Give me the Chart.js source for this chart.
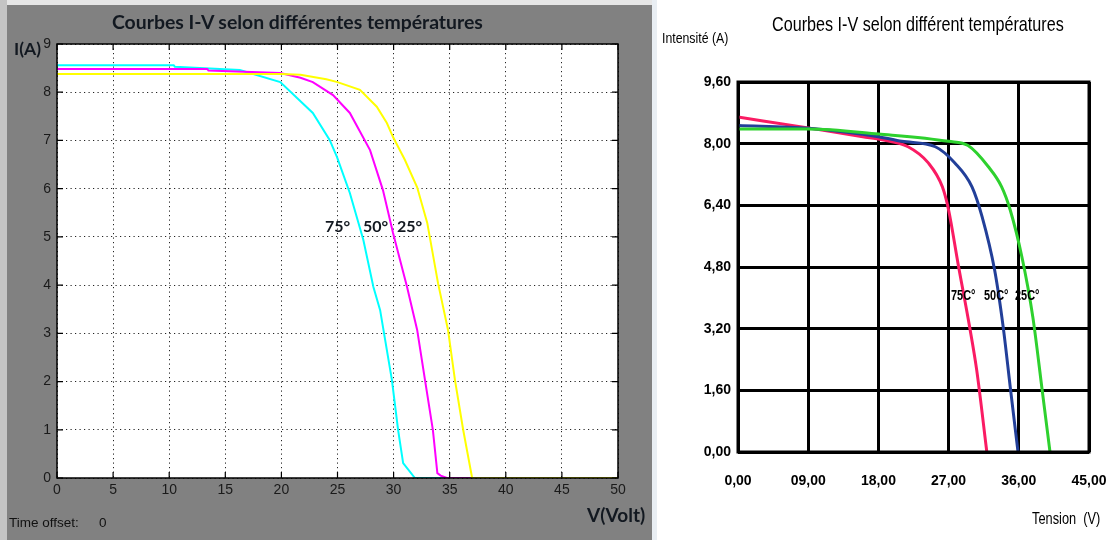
<!DOCTYPE html>
<html>
<head>
<meta charset="utf-8">
<script src="https://cdn.jsdelivr.net/npm/chart.js@4"></script>
<style>
  html, body { margin:0; padding:0; width:1106px; height:540px; background:#ffffff; overflow:hidden; }
  #stripL { position:absolute; left:0; top:0; width:7px; height:540px; background:#c4c4c4; }
  #stripT { position:absolute; left:7px; top:0; width:645px; height:5px; background:#e6e6e6; }
  #stripR { position:absolute; left:652px; top:0; width:5px; height:540px; background:#e9eef3; }
  #panel { position:absolute; left:7px; top:5px; width:645px; height:535px; background:#818181; }
  #cL { position:absolute; left:0; top:0; }
  #cR { position:absolute; left:655px; top:0; }
  .t { position:absolute; white-space:nowrap; line-height:1; }
  .lf { font-family: Lato, "Open Sans", sans-serif; font-weight:bold; color:#121820; }
  .nr { font-family: "Liberation Sans", Arial, sans-serif; color:#000; transform-origin: 0 0; }
</style>
</head>
<body>
<div id="stripL"></div><div id="stripT"></div><div id="stripR"></div>
<div id="panel"></div>
<canvas id="cL" width="652" height="540"></canvas>
<canvas id="cR" width="451" height="540"></canvas>

<div class="t lf" style="left:112px; top:12px; font-size:19.4px;">Courbes I-V selon différentes températures</div>
<div class="t lf" style="left:14px; top:40px; font-size:17.5px;">I(A)</div>
<div class="t lf" style="left:587px; top:505px; font-size:19px;">V(Volt)</div>
<div class="t" style="left:9px; top:516px; font-size:13.5px; font-family:'Liberation Sans',Arial,sans-serif; color:#111;">Time offset:</div>
<div class="t" style="left:99px; top:516px; font-size:13.5px; font-family:'Liberation Sans',Arial,sans-serif; color:#111;">0</div>
<div class="t lf" style="left:325px; top:218px; font-size:16px;">75°</div>
<div class="t lf" style="left:363px; top:218px; font-size:16px;">50°</div>
<div class="t lf" style="left:397px; top:218px; font-size:16px;">25°</div>

<div class="t nr" style="left:772px; top:13px; font-size:21px; transform:scaleX(0.77);">Courbes I-V selon différent températures</div>
<div class="t nr" style="left:662px; top:30px; font-size:15px; transform:scaleX(0.82);">Intensité (A)</div>
<div class="t nr" style="left:1032px; top:511px; font-size:16px; transform:scaleX(0.8);">Tension&nbsp; (V)</div>
<div class="t nr" style="left:951px; top:288px; font-size:14px; font-weight:bold; transform:scaleX(0.78);">75C°</div>
<div class="t nr" style="left:984px; top:288px; font-size:14px; font-weight:bold; transform:scaleX(0.78);">50C°</div>
<div class="t nr" style="left:1015px; top:288px; font-size:14px; font-weight:bold; transform:scaleX(0.78);">25C°</div>

<script>
// ---------- Left chart data (V, I) ----------
const leftV25 = [0, 20, 21.7, 24, 25, 27, 28.5, 29.4, 29.95, 31, 32.1, 33, 33.96, 34.85, 35.47, 36.2, 37, 50];
const leftI25 = [8.38, 8.38, 8.36, 8.27, 8.21, 8.05, 7.7, 7.36, 7.07, 6.6, 6.03, 5.29, 4.04, 3.07, 2.03, 1.0, 0, 0];
const leftV50 = [0, 13.4, 13.5, 19.9, 21.7, 22.8, 24.6, 26.1, 27.9, 29.05, 29.95, 31.2, 32.1, 32.8, 33.5, 33.9, 34.2, 34.75, 50];
const leftI50 = [8.48, 8.48, 8.45, 8.40, 8.3, 8.21, 7.94, 7.57, 6.8, 5.97, 5.08, 3.96, 3.07, 2.03, 1.0, 0.1, 0.05, 0, 0];
const leftV75 = [0, 10.4, 10.5, 16.3, 19.9, 22.8, 24.3, 24.95, 26.1, 27.3, 28.2, 28.8, 29.85, 30.4, 30.85, 31.9, 50];
const leftI75 = [8.56, 8.56, 8.53, 8.46, 8.21, 7.57, 7.01, 6.66, 5.91, 4.94, 3.96, 3.48, 2.03, 1.0, 0.31, 0, 0];
const leftXTicks = [0, 5, 10, 15, 20, 25, 30, 35, 40, 45, 50];
const leftYTicks = [0, 1, 2, 3, 4, 5, 6, 7, 8, 9];

// ---------- Right chart data (V, I) ----------
const rightV75 = [0, 9, 16, 18.5, 21.8, 24.4, 26.2, 27, 28.2, 29.7, 30.6, 31.9];
const rightI75 = [8.69, 8.41, 8.18, 8.1, 7.92, 7.5, 6.88, 6.28, 4.9, 3.24, 2.13, 0];
const rightV50 = [0, 9, 18, 21, 25.3, 27.8, 30, 31.3, 32.9, 34, 34.9, 35.9];
const rightI50 = [8.47, 8.40, 8.18, 8.06, 7.92, 7.5, 6.88, 6.1, 4.72, 3.24, 1.69, 0];
const rightV25 = [0, 9, 18, 27, 29.5, 32.1, 33.8, 34.9, 36.4, 37.8, 39, 40];
const rightI25 = [8.38, 8.38, 8.25, 8.06, 7.95, 7.4, 6.88, 6.28, 5.06, 3.5, 1.6, 0];
const rightXTicks = [0, 9, 18, 27, 36, 45];
const rightXLabels = ["0,00", "09,00", "18,00", "27,00", "36,00", "45,00"];
const rightYTicks = [0, 1.6, 3.2, 4.8, 6.4, 8.0, 9.6];
const rightYLabels = ["0,00", "1,60", "3,20", "4,80", "6,40", "8,00", "9,60"];

function pts(xs, ys) { return xs.map((x, i) => ({ x: x, y: ys[i] })); }

// ---------- Left chart ----------
const leftFrame = {
  id: 'leftFrame',
  beforeDraw(chart) {
    const a = chart.chartArea, c = chart.ctx;
    c.save(); c.fillStyle = '#ffffff';
    c.fillRect(a.left, a.top, a.right - a.left, a.bottom - a.top);
    c.restore();
  },
  afterDatasetsDraw(chart) {
    const a = chart.chartArea, c = chart.ctx;
    const xs = chart.scales.x, ys = chart.scales.y;
    c.save();
    c.strokeStyle = '#000'; c.lineWidth = 1.5;
    c.strokeRect(a.left, a.top, a.right - a.left, a.bottom - a.top);
    c.lineWidth = 1.2;
    c.beginPath();
    leftXTicks.forEach(v => {
      const px = xs.getPixelForValue(v);
      c.moveTo(px, a.bottom); c.lineTo(px, a.bottom - 6);
      c.moveTo(px, a.top); c.lineTo(px, a.top + 6);
    });
    leftYTicks.forEach(v => {
      const py = ys.getPixelForValue(v);
      c.moveTo(a.left, py); c.lineTo(a.left + 6, py);
      c.moveTo(a.right, py); c.lineTo(a.right - 6, py);
    });
    c.stroke();
    c.restore();
  }
};

new Chart(document.getElementById('cL'), {
  type: 'scatter',
  data: {
    datasets: [
      { label: '25°', data: pts(leftV25, leftI25), borderColor: '#ffff00', showLine: true, borderWidth: 2, pointRadius: 0, tension: 0 },
      { label: '50°', data: pts(leftV50, leftI50), borderColor: '#ff00ff', showLine: true, borderWidth: 2, pointRadius: 0, tension: 0 },
      { label: '75°', data: pts(leftV75, leftI75), borderColor: '#00ffff', showLine: true, borderWidth: 2, pointRadius: 0, tension: 0 }
    ]
  },
  options: {
    responsive: false, animation: false,
    layout: { padding: { left: 0, top: 44, right: 34, bottom: 0 } },
    plugins: { legend: { display: false }, tooltip: { enabled: false }, title: { display: false } },
    scales: {
      x: {
        type: 'linear', min: 0, max: 50,
        afterBuildTicks: s => { s.ticks = leftXTicks.map(v => ({ value: v })); },
        afterFit: s => { s.height = 62; s.paddingLeft = 0; s.paddingRight = 0; },
        ticks: { color: '#1a1a1a', padding: 4, font: { family: "'Liberation Sans', Arial, sans-serif", size: 14 }, maxRotation: 0 },
        grid: { color: '#222', lineWidth: 1, drawTicks: false },
        border: { display: false, dash: [1.2, 3.3] }
      },
      y: {
        type: 'linear', min: 0, max: 9,
        afterBuildTicks: s => { s.ticks = leftYTicks.map(v => ({ value: v })); },
        afterFit: s => { s.width = 57; },
        ticks: { color: '#1a1a1a', padding: 6, font: { family: "'Liberation Sans', Arial, sans-serif", size: 14 } },
        grid: { color: '#222', lineWidth: 1, drawTicks: false },
        border: { display: false, dash: [1.2, 3.3] }
      }
    }
  },
  plugins: [leftFrame]
});

// ---------- Right chart ----------
const rightFrame = {
  id: 'rightFrame',
  afterDraw(chart) {
    const a = chart.chartArea, c = chart.ctx;
    c.save();
    c.strokeStyle = '#000'; c.lineWidth = 3;
    c.strokeRect(a.left, a.top, a.right - a.left, a.bottom - a.top);
    c.restore();
  }
};

const tickFont = "'Liberation Sans', Arial, sans-serif";

new Chart(document.getElementById('cR'), {
  type: 'scatter',
  data: {
    datasets: [
      { label: '25C°', data: pts(rightV25, rightI25), borderColor: '#2ed12e', showLine: true, borderWidth: 3, pointRadius: 0, cubicInterpolationMode: 'monotone' },
      { label: '50C°', data: pts(rightV50, rightI50), borderColor: '#223f99', showLine: true, borderWidth: 3, pointRadius: 0, cubicInterpolationMode: 'monotone' },
      { label: '75C°', data: pts(rightV75, rightI75), borderColor: '#fa1b63', showLine: true, borderWidth: 3, pointRadius: 0, cubicInterpolationMode: 'monotone' }
    ]
  },
  options: {
    responsive: false, animation: false,
    layout: { padding: { left: 0, top: 82, right: 17, bottom: 0 } },
    plugins: { legend: { display: false }, tooltip: { enabled: false }, title: { display: false } },
    scales: {
      x: {
        type: 'linear', min: 0, max: 45,
        afterBuildTicks: s => { s.ticks = rightXTicks.map(v => ({ value: v })); },
        afterFit: s => { s.height = 88; s.paddingLeft = 0; s.paddingRight = 0; },
        ticks: { color: '#000', padding: 21, maxRotation: 0, font: { family: tickFont, size: 14, weight: 'bold' },
                 callback: (v) => rightXLabels[rightXTicks.indexOf(v)] },
        grid: { color: '#000', lineWidth: 3, drawTicks: false },
        border: { display: false }
      },
      y: {
        type: 'linear', min: 0, max: 9.6,
        afterBuildTicks: s => { s.ticks = rightYTicks.map(v => ({ value: v })); },
        afterFit: s => { s.width = 83; s.paddingTop = 0; s.paddingBottom = 0; },
        ticks: { color: '#000', padding: 7, font: { family: tickFont, size: 14, weight: 'bold' },
                 callback: (v) => { const i = rightYTicks.findIndex(t => Math.abs(t - v) < 1e-6); return i >= 0 ? rightYLabels[i] : ''; } },
        grid: { color: '#000', lineWidth: 3, drawTicks: false },
        border: { display: false }
      }
    }
  },
  plugins: [rightFrame]
});
</script>
</body>
</html>
